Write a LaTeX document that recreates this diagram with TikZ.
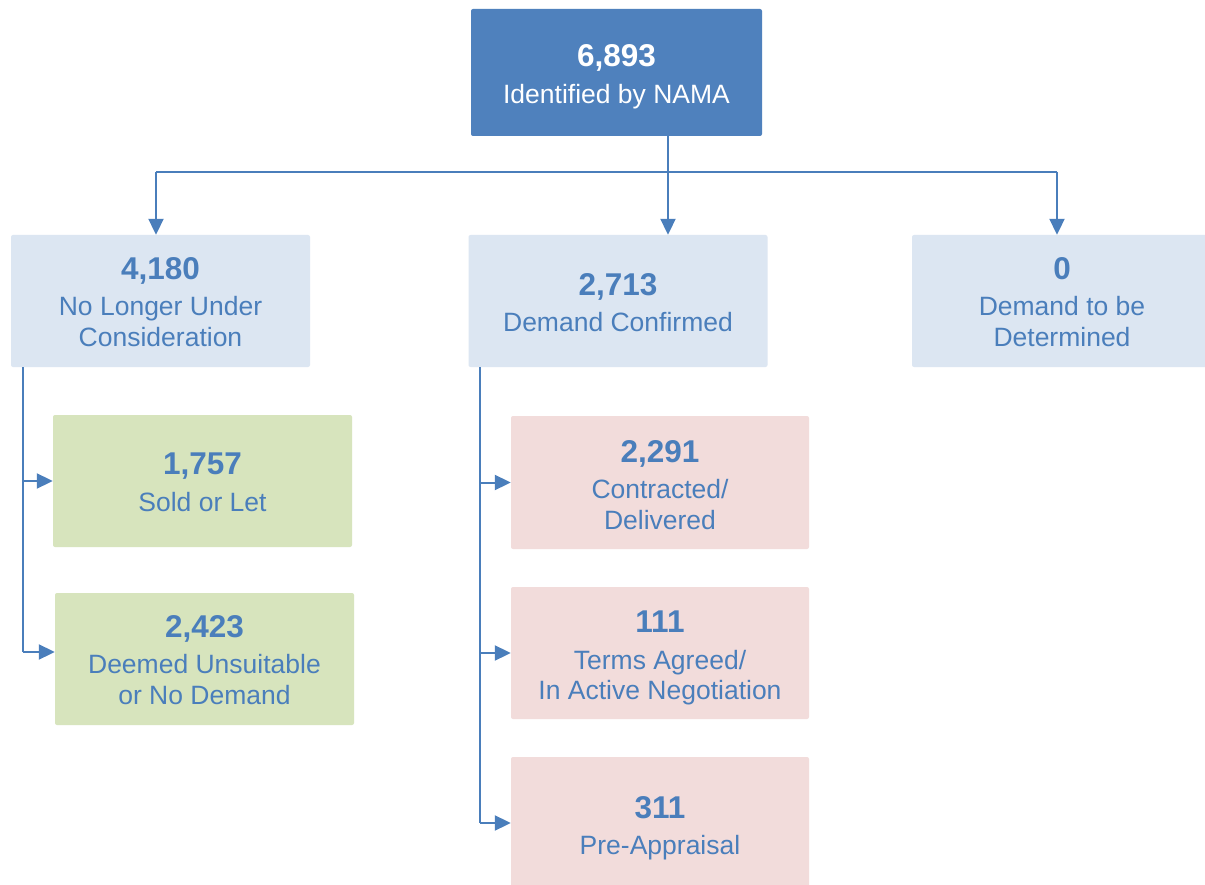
\documentclass[tikz,border=0pt]{standalone}
\usepackage{fontspec}
\setmainfont{Liberation Sans}
\usetikzlibrary{arrows.meta}
\definecolor{topblue}{HTML}{4F81BD}
\definecolor{lightblue}{HTML}{DCE6F2}
\definecolor{lightgreen}{HTML}{D7E4BD}
\definecolor{lightpink}{HTML}{F2DCDB}
\definecolor{txt}{HTML}{4A7EBB}
\definecolor{linec}{HTML}{4A7EBB}
\newcommand\bignum[2][24]{{\fontsize{31.5}{36}\selectfont\bfseries\rule{0pt}{#1pt}#2}}
\begin{document}
\begin{tikzpicture}[x=1pt,y=-1pt,
  box/.style={rounded corners=2pt, align=center, inner sep=0pt,
    minimum width=299pt, minimum height=132pt, text=txt,
    font=\fontsize{26.5}{30.5}\selectfont},
  conn/.style={draw=linec, line width=2pt},
  arr/.style={conn, -{Triangle[length=16pt,width=15pt]}}]
\useasboundingbox (0,0) rectangle (1205,885);
\clip (0,0) rectangle (1205,885);
\fill[white] (0,0) rectangle (1205,885);
% top
\node[box, fill=topblue, text=white, minimum width=291pt, minimum height=127pt] (top) at (616.5,72.5)
  {\bignum[31]{6,893}\\[6.5pt]Identified by NAMA};
% level 2
\node[box, fill=lightblue] (A) at (160.5,301) {\bignum{4,180}\\[6pt]No Longer Under\\Consideration};
\node[box, fill=lightblue] (B) at (618,301) {\bignum[26]{2,713}\\[5.5pt]Demand Confirmed};
\node[box, fill=lightblue, minimum width=300pt] (C) at (1062,301) {\bignum{0}\\[6pt]Demand to be\\Determined};
% left children
\node[box, fill=lightgreen] (D) at (202.5,481) {\bignum{1,757}\\[6pt]Sold or Let};
\node[box, fill=lightgreen] (E) at (204.5,659) {\bignum{2,423}\\[6pt]Deemed Unsuitable\\or No Demand};
% middle children
\node[box, fill=lightpink, minimum width=298pt, minimum height=133pt] (F) at (660,482.5) {\bignum[27]{2,291}\\[5.5pt]Contracted/\\Delivered};
\node[box, fill=lightpink, minimum width=298pt] (G) at (660,653) {\bignum[32]{111}\\[6pt]Terms Agreed/\\In Active Negotiation};
\node[box, fill=lightpink, minimum width=298pt] (H) at (660,823) {\bignum[32]{311}\\[6pt]Pre-Appraisal};
% connectors from top
\coordinate (split) at (668,172);
\draw[conn] (top.south -| split) -- (split);
\draw[conn] (156,172) coordinate (sl) -- (1057,172) coordinate (sr);
\draw[arr] (sl) -- ([xshift=-4.5pt]A.north);
\draw[arr] (split) -- ([xshift=50pt]B.north);
\draw[arr] (sr) -- ([xshift=-5pt]C.north);
% left bracket
\coordinate (aL) at (23,367);
\coordinate (Ein) at ([yshift=7pt]E.west);
\draw[conn] (aL) -- (aL |- Ein);
\draw[arr] (aL |- D.west) -- (D.west);
\draw[arr] (aL |- Ein) -- (Ein);
% middle bracket
\coordinate (bL) at (480,367);
\draw[conn] (bL) -- (bL |- H.west);
\draw[arr] (bL |- F.west) -- (F.west);
\draw[arr] (bL |- G.west) -- (G.west);
\draw[arr] (bL |- H.west) -- (H.west);
\end{tikzpicture}
\end{document}
